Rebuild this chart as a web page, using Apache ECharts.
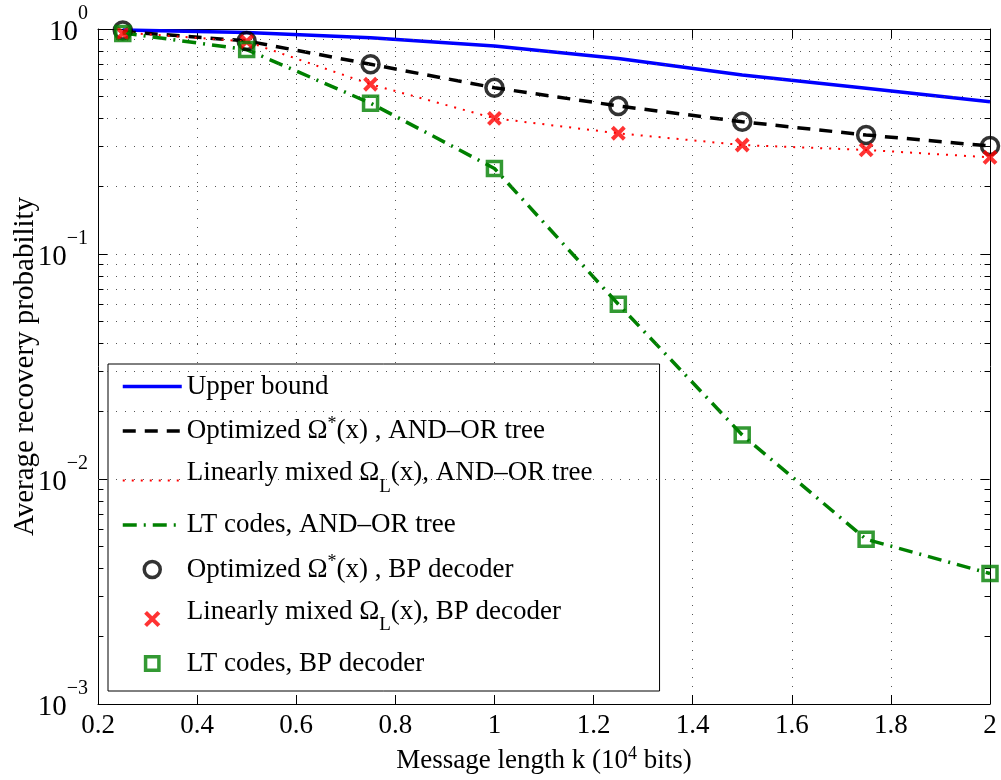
<!DOCTYPE html>
<html>
<head>
<meta charset="utf-8">
<script src="https://cdn.jsdelivr.net/npm/echarts@6/dist/echarts.min.js"></script>
<style>
html,body{margin:0;padding:0;background:#fff;}
#chart{width:1001px;height:780px;}
</style>
</head>
<body>
<div id="chart"></div>
<script>
// ---- data ----
const messageLength = [0.25, 0.5, 0.75, 1, 1.25, 1.5, 1.75, 2];
const upperBound      = [0.99, 0.965, 0.915, 0.84, 0.74, 0.625, 0.545, 0.475];
const optimizedAndOr  = [0.975, 0.885, 0.697, 0.548, 0.455, 0.387, 0.338, 0.302];
const linearAndOr     = [0.965, 0.88, 0.568, 0.401, 0.344, 0.305, 0.29, 0.269];
const ltAndOr         = [0.96, 0.81, 0.468, 0.24, 0.0598, 0.0157, 0.0054, 0.0038];
const optimizedBP     = [0.985, 0.885, 0.697, 0.548, 0.455, 0.387, 0.338, 0.302];
const linearBP        = [0.955, 0.88, 0.568, 0.401, 0.344, 0.305, 0.29, 0.269];
const ltBP            = [0.955, 0.81, 0.468, 0.24, 0.0598, 0.0157, 0.0054, 0.0038];

const seriesNames = [
  'Upper bound',
  'Optimized Ω*(x) , AND–OR tree',
  'Linearly mixed ΩL(x), AND–OR tree',
  'LT codes, AND–OR tree',
  'Optimized Ω*(x) , BP decoder',
  'Linearly mixed ΩL(x), BP decoder',
  'LT codes, BP decoder'
];
const legendRich = [
  '{t|Upper bound}',
  '{t|Optimized Ω}{sup|*}{t|(x) , AND–OR tree}',
  '{tt|Linearly mixed Ω}{sub|L}{tt|(x), AND–OR tree}',
  '{t|LT codes, AND–OR tree}',
  '{t|Optimized Ω}{sup|*}{t|(x) , BP decoder}',
  '{tt|Linearly mixed Ω}{sub|L}{tt|(x), BP decoder}',
  '{t|LT codes, BP decoder}'
];
const xMin = 0.2, xMax = 2, xStep = 0.2;
const yMin = 0.001, yMax = 1;
const decades = [0.001, 0.01, 0.1];
const minorMultipliers = [2, 3, 4, 5, 6, 7, 8, 9];

const FONT = '"Liberation Serif", "Times New Roman", serif';
const BLUE = '#0000ff', BLACK = '#000000', RED = '#ff0000', GREEN = '#008000';
const pairs = arr => messageLength.map((x, i) => [x, arr[i]]);

const minorValues = [];
decades.forEach(d => minorMultipliers.forEach(m => minorValues.push(+(m * d).toPrecision(3))));

const dotted = { color: '#555', width: 1, type: [1, 8] };
const tickLen = 0.011;
const gridMarks = minorValues.map(v => ({ yAxis: v, lineStyle: dotted }));
const minorTickMarks = [];
minorValues.forEach(v => {
  minorTickMarks.push([{ coord: [xMin, v], lineStyle: { color: '#000', width: 1, type: 'solid' } }, { coord: [xMin + tickLen, v] }]);
  minorTickMarks.push([{ coord: [xMax - tickLen, v], lineStyle: { color: '#000', width: 1, type: 'solid' } }, { coord: [xMax, v] }]);
});

const xCross = 'path://M0,0L10,10M10,0L0,10';
const xCrossIcon = 'path://M-1,-1M0,0L10,10M10,0L0,10M11,11';
const squareIcon = 'path://M-1,-1M0,0L10,0L10,10L0,10ZM11,11';

const lineStyles = [
  { color: BLUE, width: 3.5, type: 'solid' },
  { color: BLACK, width: 3.5, type: [13, 9] },
  { color: RED, width: 2, type: [2, 7] },
  { color: GREEN, width: 3.5, type: [14, 7, 2, 7] }
];

const legendData = [
  { name: seriesNames[0], itemStyle: { opacity: 0 }, lineStyle: lineStyles[0] },
  { name: seriesNames[1], itemStyle: { opacity: 0 }, lineStyle: lineStyles[1] },
  { name: seriesNames[2], itemStyle: { opacity: 0 }, lineStyle: lineStyles[2] },
  { name: seriesNames[3], itemStyle: { opacity: 0 }, lineStyle: lineStyles[3] },
  { name: seriesNames[4], icon: 'circle', itemStyle: { color: 'rgba(0,0,0,0)', borderColor: BLACK, borderWidth: 3.5 } },
  { name: seriesNames[5], icon: xCrossIcon, itemStyle: { color: 'rgba(0,0,0,0)', borderColor: RED, borderWidth: 4 } },
  { name: seriesNames[6], icon: squareIcon, itemStyle: { color: 'rgba(0,0,0,0)', borderColor: GREEN, borderWidth: 3.5 } }
];

const chart = echarts.init(document.getElementById('chart'), null, { renderer: 'canvas' });

const yLabelFmt = v => {
  const k = Math.round(Math.log10(v));
  return '{b|10}{s|' + (k < 0 ? '−' + (-k) : String(k)) + '}';
};

const option = {
  backgroundColor: '#fff',
  animation: false,
  textStyle: { fontFamily: FONT, color: '#000' },
  grid: { left: 98, right: 11, top: 29, bottom: 76, containLabel: false, outerBoundsMode: 'none' },
  legend: {
    data: legendData,
    orient: 'vertical',
    left: 108, top: 364,
    padding: [9, 67, 14, 13],
    itemGap: 15,
    itemWidth: 59,
    itemHeight: 16,
    selectedMode: false,
    backgroundColor: '#fff',
    borderColor: '#000',
    borderWidth: 1,
    borderRadius: 0,
    formatter: name => legendRich[seriesNames.indexOf(name)],
    textStyle: {
      fontFamily: FONT, color: '#000', fontSize: 27,
      rich: {
        t: { fontFamily: FONT, fontSize: 27, lineHeight: 32, color: '#000' },
        tt: { fontFamily: FONT, fontSize: 27, lineHeight: 18, verticalAlign: 'top', color: '#000' },
        sup: { fontFamily: FONT, fontSize: 18, verticalAlign: 'top', color: '#000' },
        sub: { fontFamily: FONT, fontSize: 19, lineHeight: 42, padding: [18, 0, 0, 0], verticalAlign: 'top', color: '#000' }
      }
    }
  },
  xAxis: [{
    type: 'value', min: xMin, max: xMax, interval: xStep, position: 'bottom',
    name: '{t|Message length k (10}{s|4}{t| bits)}',
    nameLocation: 'middle', nameGap: 41,
    nameTextStyle: {
      fontFamily: FONT, color: '#000',
      rich: {
        t: { fontFamily: FONT, fontSize: 27, color: '#000' },
        s: { fontFamily: FONT, fontSize: 18, padding: [0, 0, 14, 0], color: '#000' }
      }
    },
    axisLine: { show: true, onZero: false, lineStyle: { color: '#000', width: 1 } },
    axisTick: { show: true, inside: true, length: 9, lineStyle: { color: '#000' } },
    axisLabel: { fontFamily: FONT, fontSize: 27, color: '#000', margin: 8 },
    splitLine: { show: true, lineStyle: dotted }
  }, {
    type: 'value', min: xMin, max: xMax, interval: xStep, position: 'top',
    axisLine: { show: true, onZero: false, lineStyle: { color: '#000', width: 1 } },
    axisTick: { show: true, inside: true, length: 9, lineStyle: { color: '#000' } },
    axisLabel: { show: false },
    splitLine: { show: false }
  }],
  yAxis: [{
    type: 'log', logBase: 10, min: yMin, max: yMax, position: 'left',
    name: 'Average recovery probability',
    nameLocation: 'middle', nameGap: 58, nameRotate: 90, nameMoveOverlap: false,
    nameTextStyle: { fontFamily: FONT, fontSize: 29, color: '#000' },
    axisLine: { show: true, onZero: false, lineStyle: { color: '#000', width: 1 } },
    axisTick: { show: true, inside: true, length: 9, lineStyle: { color: '#000' } },
    axisLabel: {
      margin: 10, formatter: yLabelFmt,
      rich: {
        b: { fontFamily: FONT, fontSize: 29, padding: [6, 0, 0, 0], color: '#000' },
        s: { fontFamily: FONT, fontSize: 20, padding: [0, 0, 30, 0], color: '#000' }
      }
    },
    splitLine: { show: true, lineStyle: dotted }
  }, {
    type: 'log', logBase: 10, min: yMin, max: yMax, position: 'right',
    axisLine: { show: true, onZero: false, lineStyle: { color: '#000', width: 1 } },
    axisTick: { show: true, inside: true, length: 9, lineStyle: { color: '#000' } },
    axisLabel: { show: false },
    splitLine: { show: false }
  }],
  series: [
    {
      name: '_grid', type: 'line', data: [], silent: true, z: 1,
      markLine: {
        silent: true, symbol: 'none', animation: false,
        label: { show: false }, emphasis: { disabled: true },
        data: gridMarks.concat(minorTickMarks)
      }
    },
    {
      name: seriesNames[0], type: 'line', data: pairs(upperBound), symbol: 'none', z: 3,
      lineStyle: lineStyles[0], itemStyle: { color: BLUE }
    },
    {
      name: seriesNames[1], type: 'line', data: pairs(optimizedAndOr), symbol: 'none', z: 3,
      lineStyle: lineStyles[1], itemStyle: { color: BLACK }
    },
    {
      name: seriesNames[2], type: 'line', data: pairs(linearAndOr), symbol: 'none', z: 3,
      lineStyle: lineStyles[2], itemStyle: { color: RED }
    },
    {
      name: seriesNames[3], type: 'line', data: pairs(ltAndOr), symbol: 'none', z: 3,
      lineStyle: lineStyles[3], itemStyle: { color: GREEN }
    },
    {
      name: seriesNames[4], type: 'scatter', data: pairs(optimizedBP), symbol: 'circle', symbolSize: 17,
      clip: false, z: 5,
      itemStyle: { color: 'rgba(0,0,0,0)', borderColor: BLACK, borderWidth: 3.5 }
    },
    {
      name: seriesNames[5], type: 'scatter', data: pairs(linearBP), symbol: xCross, symbolSize: 12,
      clip: false, z: 5,
      itemStyle: { color: 'rgba(0,0,0,0)', borderColor: RED, borderWidth: 4 }
    },
    {
      name: seriesNames[6], type: 'scatter', data: pairs(ltBP), symbol: 'rect', symbolSize: 14,
      clip: false, z: 5,
      itemStyle: { color: 'rgba(0,0,0,0)', borderColor: GREEN, borderWidth: 3.5 }
    }
  ]
};
chart.setOption(option);
</script>
</body>
</html>
